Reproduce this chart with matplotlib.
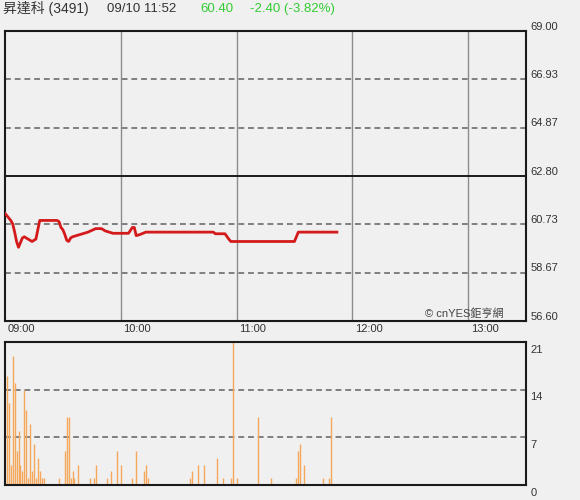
"""Intraday price / volume chart for 昇達科 (3491)."""
import matplotlib.pyplot as plt
from matplotlib.transforms import blended_transform_factory

plt.rcParams["font.family"] = ["Liberation Sans", "Noto Sans CJK TC", "DejaVu Sans"]

BG = "#f0f0f0"
FRAME = "#1a1a1a"
GRID = "#7f7f7f"
VGRID = "#8c8c8c"
TEXT = "#333333"
GREEN = "#33cc33"
PRICE_COLOR = "#d41a1a"
VOL_COLOR = "#f5a85a"

# minutes after 09:00 and traded price
price_minutes = [0, 1, 2, 3, 4, 5, 6, 7, 8, 9, 10, 11, 12, 13, 14, 15, 16, 17, 18,
                 27, 28, 29, 30, 31, 32, 33, 34, 35, 39, 43, 47, 50, 52, 54, 56,
                 64, 66, 67, 68, 70, 73, 108, 109, 114, 116, 117, 150, 151, 152, 172]
price_values = [61.20, 61.10, 61.00, 60.90, 60.75, 60.40, 60.00, 59.75, 59.95, 60.15,
                60.20, 60.15, 60.10, 60.05, 60.00, 60.05, 60.10, 60.50, 60.90,
                60.90, 60.85, 60.60, 60.50, 60.30, 60.05, 60.00, 60.15, 60.20, 60.30,
                60.40, 60.55, 60.55, 60.45, 60.40, 60.35, 60.35, 60.60, 60.60, 60.25,
                60.30, 60.40, 60.40, 60.33, 60.33, 60.10, 60.00, 60.00, 60.20, 60.40,
                60.40]

# minutes after 09:00 and volume
vol_minutes = [1, 2, 3, 4, 5, 6, 7, 8, 9, 10, 11, 12, 13, 14, 15, 16, 17, 18, 19, 20,
               28, 31, 32, 33, 34, 35, 36, 38, 44, 46, 47, 53, 55, 58, 60, 66, 68, 72,
               73, 74, 96, 97, 100, 103, 110, 113, 117, 118, 120, 131, 138, 151, 152,
               153, 155, 165, 168, 169]
vol_values = [16, 12, 3, 19, 15, 5, 8, 3, 2, 14, 11, 1, 9, 2, 6, 1, 4, 2, 1, 1,
              1, 5, 10, 10, 1, 2, 1, 3, 1, 1, 3, 1, 2, 5, 3, 1, 5, 2,
              3, 1, 1, 2, 3, 3, 4, 1, 1, 21, 1, 10, 1, 1, 5,
              6, 3, 1, 1, 10]

price_ticks = [56.60, 58.67, 60.73, 62.80, 64.87, 66.93, 69.00]
prev_close = 62.80
vol_ticks = [0, 7, 14, 21]
time_ticks = [0, 60, 120, 180, 240]
time_labels = ["09:00", "10:00", "11:00", "12:00", "13:00"]


def style_frame(ax):
    ax.set_facecolor(BG)
    for spine in ax.spines.values():
        spine.set_color(FRAME)
        spine.set_linewidth(1.5)
    ax.set_xticks([])
    ax.set_yticks([])
    ax.set_xlim(0, 270)


def main():
    fig = plt.figure(figsize=(5.8, 5.0), dpi=100, facecolor=BG)
    ax = fig.add_axes([5 / 580, 1 - 321 / 500, 521 / 580, 290 / 500])
    axv = fig.add_axes([5 / 580, 1 - 485 / 500, 521 / 580, 143 / 500])
    style_frame(ax)
    style_frame(axv)

    # price panel
    ax.set_ylim(price_ticks[0], price_ticks[-1])
    for t in time_ticks[1:]:
        ax.axvline(t, color=VGRID, linewidth=1.0, zorder=1)
    for p in price_ticks[1:-1]:
        if p == prev_close:
            ax.axhline(p, color=FRAME, linewidth=1.4, zorder=2)
        else:
            ax.axhline(p, color=GRID, linewidth=1.4, linestyle=(0, (3, 2)), zorder=2)
    ax.plot(price_minutes, price_values, color=PRICE_COLOR, linewidth=2.0, zorder=3)
    for p in price_ticks:
        ax.annotate(f"{p:.2f}", xy=(1, p), xycoords=("axes fraction", "data"),
                    xytext=(3, 3), textcoords="offset points",
                    ha="left", va="center", fontsize=8, color=TEXT, clip_on=False)
    tr = blended_transform_factory(ax.transData, ax.transAxes)
    for t, lab in zip(time_ticks, time_labels):
        ax.annotate(lab, xy=(t, 0), xycoords=tr, xytext=(2, -2.5),
                    textcoords="offset points", ha="left", va="top",
                    fontsize=8, color=TEXT)
    ax.text(0.957, 0.025, "© cnYES鉅亨網", transform=ax.transAxes,
            ha="right", va="center", fontsize=8, color="#444444", zorder=4)

    # volume panel
    axv.set_ylim(0, vol_ticks[-1])
    for v in vol_ticks[1:-1]:
        axv.axhline(v, color=GRID, linewidth=1.4, linestyle=(0, (3, 2)), zorder=1)
    axv.vlines(vol_minutes, 0, vol_values, color=VOL_COLOR, linewidth=1.0, zorder=2)
    for v in vol_ticks:
        axv.annotate(f"{v}", xy=(1, v), xycoords=("axes fraction", "data"),
                     xytext=(3, -2), textcoords="offset points",
                     ha="left", va="top", fontsize=8, color=TEXT, clip_on=False)

    # header
    y = 1 - 9 / 500
    fig.text(3 / 580, y, "昇達科 (3491)", ha="left", va="center", fontsize=10, color=TEXT)
    fig.text(107 / 580, y, "09/10 11:52", ha="left", va="center", fontsize=9.5, color=TEXT)
    fig.text(200 / 580, y, "60.40", ha="left", va="center", fontsize=9.5, color=GREEN)
    fig.text(250 / 580, y, "-2.40 (-3.82%)", ha="left", va="center", fontsize=9.5, color=GREEN)

    fig.savefig("out.png", dpi=100, facecolor=BG)
    plt.close(fig)


if __name__ == "__main__":
    main()
